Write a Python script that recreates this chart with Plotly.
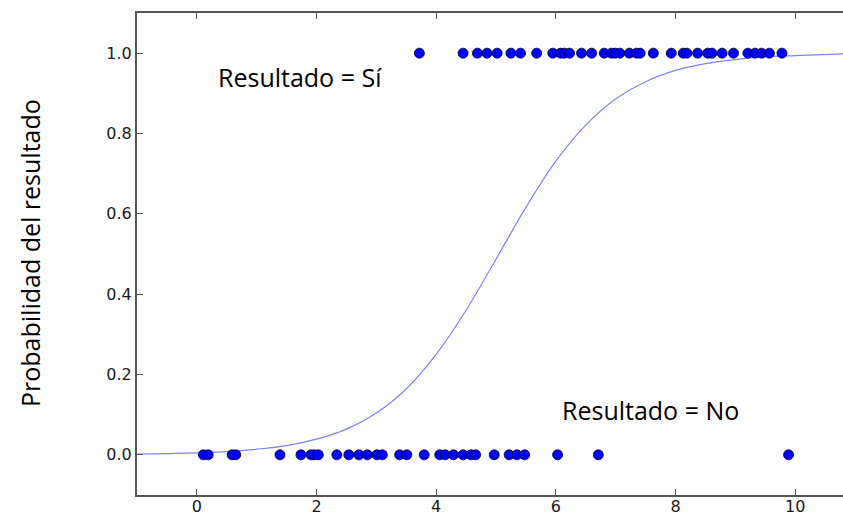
import plotly.graph_objects as go

x_si = [3.72, 4.45, 4.69, 4.85, 5.02, 5.25, 5.41, 5.68, 5.95, 6.08, 6.14, 6.23,
        6.43, 6.60, 6.81, 6.93, 6.99, 7.07, 7.23, 7.35, 7.41, 7.63, 7.93, 8.13,
        8.19, 8.37, 8.54, 8.61, 8.78, 8.97, 9.21, 9.33, 9.44, 9.57, 9.78]
y_si = [1.0] * len(x_si)

x_no = [0.11, 0.19, 0.59, 0.65, 1.39, 1.74, 1.91, 1.96, 2.03, 2.34, 2.54, 2.71,
        2.85, 3.01, 3.10, 3.39, 3.51, 3.80, 4.06, 4.15, 4.29, 4.45, 4.58, 4.66,
        4.97, 5.22, 5.35, 5.48, 6.03, 6.71, 9.89]
y_no = [0.0] * len(x_no)

# Fitted probability curve
curve_x = [-1.0, -0.5, 0.0, 0.5, 1.0, 1.5, 2.0, 2.5, 3.0, 3.5, 4.0, 4.5, 5.0,
           5.5, 6.0, 6.5, 7.0, 7.5, 8.0, 8.5, 9.0, 9.5, 10.0, 10.8]
curve_y = [0.002, 0.003, 0.005, 0.008, 0.014, 0.023, 0.039, 0.064, 0.104, 0.164,
           0.250, 0.360, 0.487, 0.616, 0.731, 0.821, 0.886, 0.929, 0.957, 0.974,
           0.984, 0.991, 0.994, 0.998]

x_ticks = [0, 2, 4, 6, 8, 10]
y_ticks = [0.0, 0.2, 0.4, 0.6, 0.8, 1.0]

fig = go.Figure()
fig.add_trace(go.Scatter(x=curve_x, y=curve_y, mode="lines",
                         line=dict(color="#8080ff", width=1.2, shape="spline"),
                         hoverinfo="skip", showlegend=False))
fig.add_trace(go.Scatter(x=x_si + x_no, y=y_si + y_no, mode="markers",
                         marker=dict(color="#0000ff", size=10,
                                     line=dict(color="#000033", width=0.8)),
                         showlegend=False))

axis_common = dict(showgrid=False, zeroline=False, showline=True, automargin=False,
                   linecolor="#555555", linewidth=2, ticks="inside",
                   ticklen=6, tickwidth=1.3, tickcolor="#555555",
                   tickfont=dict(family="DejaVu Sans", size=16, color="#1a1a1a"))

fig.update_xaxes(range=[-1, 10.8], tickvals=x_ticks, mirror="ticks",
                 ticklabelstandoff=-4, **axis_common)
fig.update_yaxes(range=[-0.1, 1.1], tickvals=y_ticks, tickformat=".1f", **axis_common)

txt_font = dict(family="Open Sans", size=25, color="#000000")
# label positions given in pixels, converted to paper coordinates below
fig.add_annotation(x=300, y=77, text="Resultado = Sí", showarrow=False, font=txt_font)
fig.add_annotation(x=650, y=410, text="Resultado = No", showarrow=False, font=txt_font)
fig.add_annotation(x=30, y=253, text="Probabilidad del resultado", textangle=-90,
                   showarrow=False, font=txt_font)

W, H = 843, 513
L, R, T, B = 137, 0, 13, 18
pw, ph = W - L - R, H - T - B
for ann in fig.layout.annotations:
    px, py = ann.x, ann.y
    ann.xref = "paper"
    ann.yref = "paper"
    ann.x = (px - L) / pw
    ann.y = 1 - (py - T) / ph
    ann.xanchor = "center"
    ann.yanchor = "middle"

fig.update_layout(width=W, height=H, margin=dict(l=L, r=R, t=T, b=B),
                  plot_bgcolor="white", paper_bgcolor="white")

fig.write_html("out.html", config={"displayModeBar": False},
               post_script="document.body.style.margin='0';document.body.style.overflow='hidden';")
